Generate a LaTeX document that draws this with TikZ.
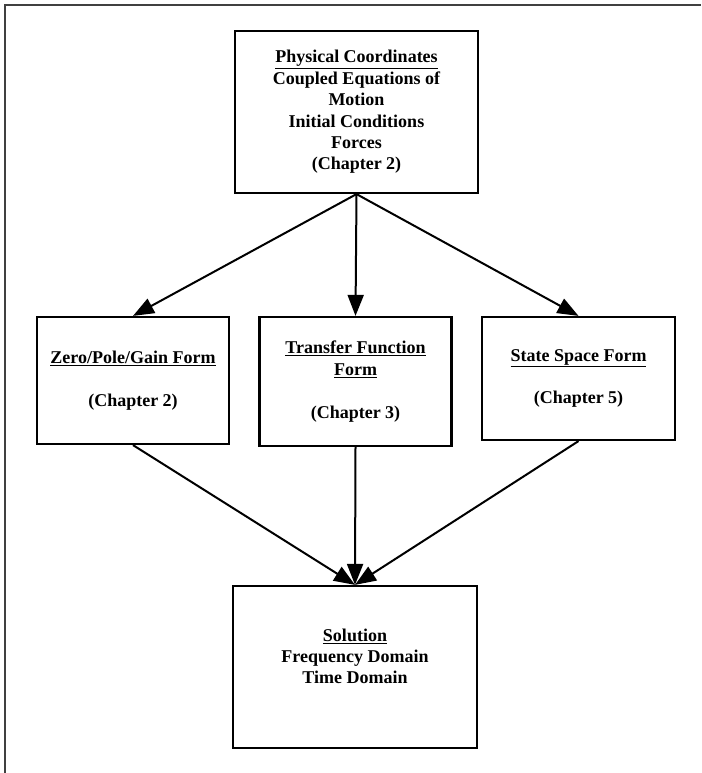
\documentclass[tikz,border=0pt]{standalone}
\usepackage{fontspec}
\setmainfont{Liberation Serif}
\usetikzlibrary{arrows.meta}
\tikzset{
  box/.style={draw, line width=2.2pt, inner sep=0pt, align=center,
    font=\bfseries\fontsize{18}{21.4}\selectfont},
  conn/.style={line width=2pt, -{Triangle[length=21pt,width=16pt]}},
  frame/.style={draw=black!75, line width=1.4pt}
}
\begin{document}
\begin{tikzpicture}[x=1pt,y=-1pt]
\useasboundingbox (0,0) rectangle (701,773);
\coordinate (fa) at (5,773);
\coordinate (fb) at (5,5);
\coordinate (fc) at (701,5);
\draw[frame] (fa) -- (fb) -- (fc);

\node[box, minimum width=243pt, minimum height=162pt] (phys) at (356.5,112)
  {\underline{Physical Coordinates}\\Coupled Equations of\\Motion\\Initial Conditions\\Forces\\(Chapter 2)};
\node[box, minimum width=192pt, minimum height=127pt] (zpg) at (133,380.5)
  {\underline{Zero/Pole/Gain Form}\\ ~ \\(Chapter 2)};
\node[box, minimum width=192pt, minimum height=129pt] (tf) at (355.5,381.5)
  {\underline{Transfer Function}\\\underline{Form}\\ ~ \\(Chapter 3)};
\node[box, minimum width=193pt, minimum height=123pt] (ss) at (578.5,378.5)
  {\underline{State Space Form}\\ ~ \\(Chapter 5)};
\node[box, minimum width=244pt, minimum height=162pt] (sol) at (355,667)
  {\underline{Solution}\\Frequency Domain\\Time Domain\\ ~};

\draw[conn] (phys.south) -- (zpg.north);
\draw[conn] (phys.south) -- (tf.north);
\draw[conn] (phys.south) -- (ss.north);
\draw[conn] (zpg.south) -- (sol.north);
\draw[conn] (tf.south) -- (sol.north);
\draw[conn] (ss.south) -- (sol.north);
\end{tikzpicture}
\end{document}
